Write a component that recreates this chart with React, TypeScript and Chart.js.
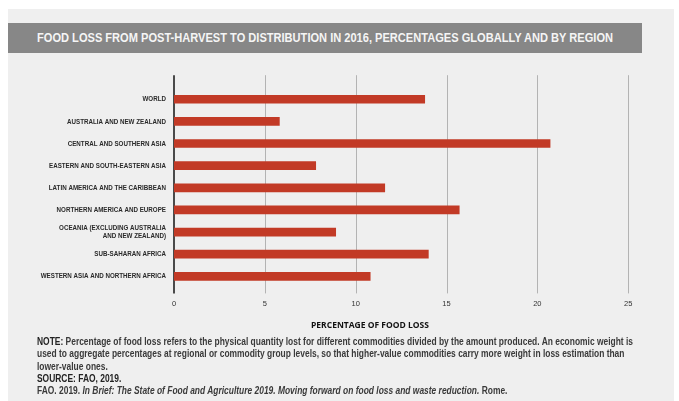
import React, { useEffect, useLayoutEffect, useRef, useState } from "react";
import { Chart, registerables } from "chart.js";

Chart.register(...registerables);

const categories: (string | string[])[] = [
  "WORLD",
  "AUSTRALIA AND NEW ZEALAND",
  "CENTRAL AND SOUTHERN ASIA",
  "EASTERN AND SOUTH-EASTERN ASIA",
  "LATIN AMERICA AND THE CARIBBEAN",
  "NORTHERN AMERICA AND EUROPE",
  ["OCEANIA (EXCLUDING AUSTRALIA", "AND NEW ZEALAND)"],
  "SUB-SAHARAN AFRICA",
  "WESTERN ASIA AND NORTHERN AFRICA",
];
const foodLossPct = [13.8, 5.8, 20.7, 7.8, 11.6, 15.7, 8.9, 14.0, 10.8];
const xTickValues = [0, 5, 10, 15, 20, 25];

const titleText =
  "FOOD LOSS FROM POST-HARVEST TO DISTRIBUTION IN 2016, PERCENTAGES GLOBALLY AND BY REGION";
const axisTitle = "PERCENTAGE OF FOOD LOSS";

const SANS = "'Liberation Sans', Arial, sans-serif";

const gridPlugin = {
  id: "customGrid",
  beforeDatasetsDraw(chart: any) {
    const { ctx, chartArea, scales } = chart;
    const x = scales.x;
    ctx.save();
    xTickValues.forEach((v) => {
      const isZero = v === 0;
      const px = isZero ? x.getPixelForValue(v) : Math.round(x.getPixelForValue(v)) + 0.5;
      ctx.beginPath();
      ctx.strokeStyle = isZero ? "#4a4a4a" : "#b3b3b3";
      ctx.lineWidth = isZero ? 2 : 1;
      ctx.moveTo(px, chartArea.top - 13);
      ctx.lineTo(px, chartArea.bottom + 6);
      ctx.stroke();
    });
    ctx.restore();
  },
};

// Category labels drawn at the y scale's tick positions, horizontally condensed
const yLabelPlugin = {
  id: "condensedYLabels",
  afterDraw(chart: any) {
    const { ctx, scales } = chart;
    const y = scales.y;
    ctx.save();
    ctx.font = `bold 7.7px ${SANS}`;
    ctx.fillStyle = "#2a2a2a";
    ctx.textAlign = "right";
    ctx.textBaseline = "middle";
    const k = 99 / ctx.measureText("AUSTRALIA AND NEW ZEALAND").width;
    const right = y.right - 8;
    categories.forEach((lab, i) => {
      const py = y.getPixelForTick(i);
      const lines = Array.isArray(lab) ? lab : [lab];
      const lh = 8.3;
      lines.forEach((ln, j) => {
        const ly = py + (j - (lines.length - 1) / 2) * lh;
        ctx.save();
        ctx.translate(right, ly);
        ctx.scale(k, 1);
        ctx.fillText(ln, 0, 0);
        ctx.restore();
      });
    });
    ctx.restore();
  },
};

function FoodLossChart() {
  const ref = useRef<HTMLCanvasElement | null>(null);
  useEffect(() => {
    if (!ref.current) return;
    const chart = new Chart(ref.current, {
      type: "bar",
      data: {
        labels: categories,
        datasets: [
          {
            data: foodLossPct,
            backgroundColor: "#c23a26",
            borderWidth: 0,
            barThickness: 8,
          },
        ],
      },
      options: {
        indexAxis: "y",
        responsive: false,
        animation: false,
        layout: { padding: { left: 0, right: 50.8, top: 28.2, bottom: 12.6 } },
        plugins: {
          legend: { display: false },
          tooltip: { enabled: false },
          title: { display: false },
        },
        scales: {
          x: {
            type: "linear",
            min: 0,
            max: 25,
            afterBuildTicks: (scale: any) => {
              scale.ticks = xTickValues.map((v) => ({ value: v }));
            },
            afterFit: (scale: any) => {
              scale.height = 20;
            },
            grid: { display: false },
            border: { display: false },
            ticks: {
              padding: 4,
              color: "#333",
              font: { family: SANS, size: 7.5 },
            },
          },
          y: {
            afterFit: (scale: any) => {
              scale.width = 174;
            },
            grid: { display: false },
            border: { display: false },
            ticks: { display: false },
          },
        },
      },
      plugins: [gridPlugin, yLabelPlugin],
    } as any);
    return () => chart.destroy();
  }, []);
  return (
    <canvas
      ref={ref}
      width={679}
      height={260}
      style={{ position: "absolute", left: 0, top: 60, width: 679, height: 260, display: "block" }}
    />
  );
}

function useFitScale(target: number) {
  const ref = useRef<HTMLSpanElement | null>(null);
  const [k, setK] = useState(1);
  useLayoutEffect(() => {
    if (!ref.current) return;
    const w = ref.current.getBoundingClientRect().width;
    if (w > 0) setK(target / w);
  }, [target]);
  return [ref, k] as const;
}

function TitleBand() {
  const [ref, k] = useFitScale(576);
  return (
    <div
      style={{
        position: "absolute",
        left: 8,
        top: 23,
        width: 634,
        height: 30,
        background: "#878787",
        color: "#f5f5f5",
        fontFamily: SANS,
        fontWeight: "bold",
        fontSize: 13.5,
        lineHeight: "30px",
        textAlign: "center",
        whiteSpace: "nowrap",
        overflow: "visible",
      }}
    >
      <span
        style={{
          display: "inline-block",
          transform: `scaleX(${k})`,
          transformOrigin: "center center",
          marginLeft: -500,
          marginRight: -500,
        }}
      >
        <span ref={ref}>{titleText}</span>
      </span>
    </div>
  );
}

function Notes() {
  const [ref, k] = useFitScale(596);
  return (
    <div
      style={{
        position: "absolute",
        left: 37,
        top: 335,
        fontFamily: SANS,
        fontWeight: "bold",
        fontSize: 10.5,
        lineHeight: "12.3px",
        color: "#3a3a3a",
        whiteSpace: "nowrap",
        transform: `scaleX(${k})`,
        transformOrigin: "left top",
      }}
    >
      <div>
        <span ref={ref}>
          <span style={{ color: "#222" }}>NOTE:</span> Percentage of food loss refers to the physical quantity lost for different commodities divided by the amount produced. An economic weight is
        </span>
      </div>
      <div>
        used to aggregate percentages at regional or commodity group levels, so that higher-value commodities carry more weight in loss estimation than
      </div>
      <div>lower-value ones.</div>
      <div style={{ color: "#222" }}>SOURCE: FAO, 2019.</div>
      <div>
        FAO. 2019. <i>In Brief: The State of Food and Agriculture 2019. Moving forward on food loss and waste reduction.</i> Rome.
      </div>
    </div>
  );
}

export default function App() {
  return (
    <div style={{ position: "absolute", left: 0, top: 0, width: 679, height: 401, background: "#ffffff", overflow: "hidden" }}>
      <div style={{ position: "absolute", left: 8, top: 9, width: 666, height: 392, background: "#efefef" }} />
      <TitleBand />
      <FoodLossChart />
      <div
        style={{
          position: "absolute",
          left: 270,
          width: 200,
          top: 319,
          textAlign: "center",
          fontFamily: "'Open Sans', sans-serif",
          fontWeight: "bold",
          fontSize: 8.5,
          lineHeight: "12px",
          color: "#111",
          whiteSpace: "nowrap",
        }}
      >
        {axisTitle}
      </div>
      <Notes />
    </div>
  );
}
